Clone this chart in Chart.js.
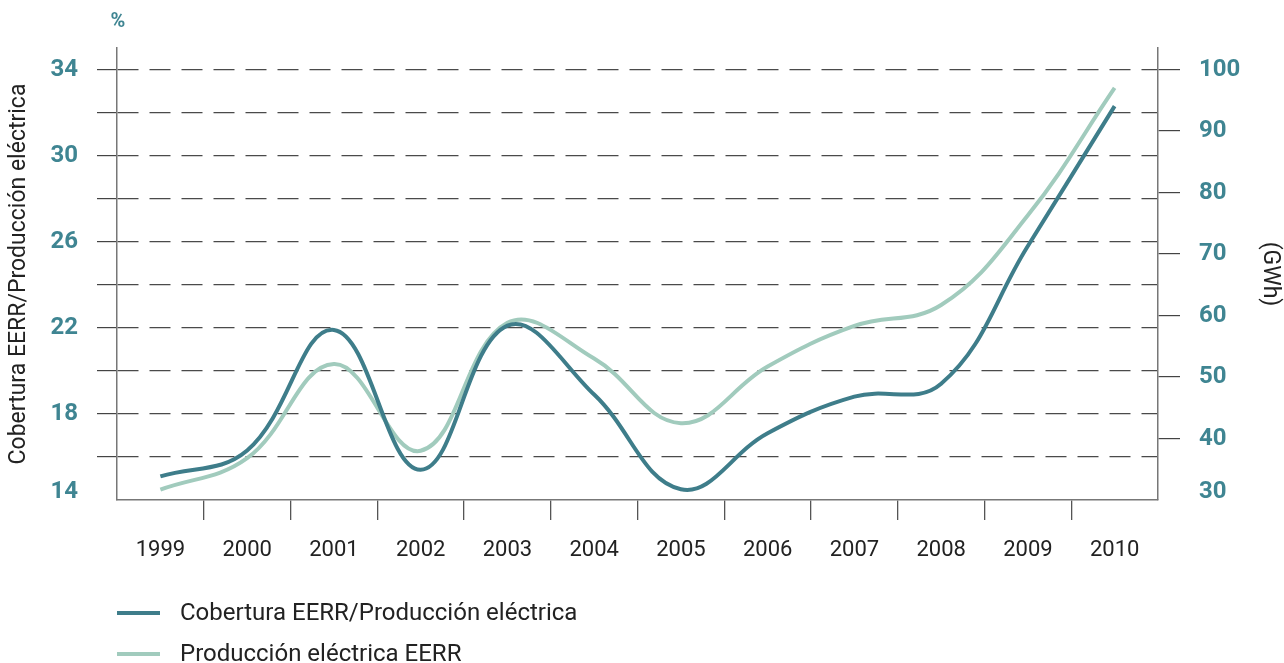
<!DOCTYPE html>
<html>
<head>
<meta charset="utf-8">
<script src="https://cdn.jsdelivr.net/npm/chart.js@4"></script>
<style>
html,body{margin:0;padding:0;background:#fff;}
#wrap{width:1284px;height:663px;position:relative;}
</style>
</head>
<body>
<div id="wrap"><canvas id="c" width="1284" height="663"></canvas></div>
<script>
// ---- data ----
const years = ['1999','2000','2001','2002','2003','2004','2005','2006','2007','2008','2009','2010'];
const cobertura = [15.1, 16.3, 21.9, 15.4, 22.1, 18.9, 14.5, 17.1, 18.8, 19.4, 25.8, 32.3];   // %
const produccion = [31.7, 36.8, 52.1, 38.0, 58.8, 53.0, 42.5, 51.7, 58.3, 61.7, 76.3, 97.0]; // GWh
const leftTicks = [14, 16, 18, 20, 22, 24, 26, 28, 30, 32, 34];
const leftLabels = [14, 18, 22, 26, 30, 34];
const rightTicks = [30, 40, 50, 60, 70, 80, 90, 100];
const seriesNames = ['Cobertura EERR/Producción eléctrica', 'Producción eléctrica EERR'];
const leftTitle = 'Cobertura EERR/Producción eléctrica';
const rightTitle = '(GWh)';
const unitLabel = '%';

const DARK = '#3e7d8a';
const LIGHT = '#a1cbbd';
const TEAL = '#3f8592';
const AXIS = '#777777';
const GRID = '#4a4a4a';
const TEXT = '#222222';
const FONT = 'Roboto';

const legendPlugin = {
  id: 'stackedLegend',
  afterDraw(chart) {
    const ctx = chart.ctx;
    const x0 = chart.chartArea.left;
    const rows = [613, 654];
    ctx.save();
    chart.data.datasets.forEach((ds, i) => {
      const y = rows[i];
      ctx.strokeStyle = ds.borderColor;
      ctx.lineWidth = 4;
      ctx.beginPath();
      ctx.moveTo(x0, y);
      ctx.lineTo(x0 + 43, y);
      ctx.stroke();
      ctx.fillStyle = TEXT;
      ctx.font = '24px ' + FONT;
      ctx.textBaseline = 'middle';
      ctx.textAlign = 'left';
      ctx.fillText(ds.label, x0 + 63, y + 1);
    });
    ctx.fillStyle = TEAL;
    ctx.font = 'bold 20px ' + FONT;
    ctx.textAlign = 'center';
    ctx.textBaseline = 'middle';
    ctx.fillText(unitLabel, chart.scales.y.right + 1, 22);
    ctx.restore();
  }
};

const nudgePlugin = {
  id: 'nudgeBottomLabels',
  afterLayout(chart) {
    ['y', 'y1'].forEach(id => {
      const s = chart.scales[id];
      if (!s || !s.getLabelItems) return;
      const items = s.getLabelItems();
      items.forEach(it => {
        if ((id === 'y' && String(it.label) === '14') || (id === 'y1' && String(it.label) === '30')) {
          if (it.options && it.options.translation) it.options.translation[1] -= 8;
        }
      });
    });
  }
};

const edgeless = (c) => (c.index >= 1 && c.index <= years.length - 1) ? '#555555' : 'rgba(0,0,0,0)';

new Chart(document.getElementById('c'), {
  type: 'line',
  data: {
    labels: years,
    datasets: [
      { label: seriesNames[0], data: cobertura, yAxisID: 'y', borderColor: DARK, backgroundColor: DARK,
        borderWidth: 4, pointRadius: 0, tension: 0.4, fill: false, order: 0 },
      { label: seriesNames[1], data: produccion, yAxisID: 'y1', borderColor: LIGHT, backgroundColor: LIGHT,
        borderWidth: 4, pointRadius: 0, tension: 0.4, fill: false, order: 1 }
    ]
  },
  options: {
    responsive: false,
    animation: false,
    layout: { padding: { top: 48, bottom: 93, left: 0, right: 0 } },
    plugins: { legend: { display: false }, tooltip: { enabled: false } },
    scales: {
      x: {
        type: 'category',
        offset: true,
        grid: { offset: true, drawOnChartArea: false, drawTicks: true, tickLength: 20,
                color: edgeless, tickColor: edgeless, lineWidth: 1.3, tickWidth: 1.3 },
        border: { display: true, color: AXIS, width: 1.5 },
        ticks: { color: TEXT, font: { family: FONT, size: 22 }, padding: 17, maxRotation: 0, autoSkip: false },
        afterFit: s => { s.height = 70; }
      },
      y: {
        type: 'linear', position: 'left', min: 14, max: 35,
        afterBuildTicks: s => { s.ticks = leftTicks.map(v => ({ value: v })); },
        ticks: { color: TEAL, font: { family: FONT, size: 24, weight: 'bold' }, padding: 19,
                 callback: v => leftLabels.includes(v) ? String(v) : '' },
        grid: { drawOnChartArea: true, drawTicks: true, tickLength: 20,
                color: c => (c.tick && c.tick.value === 14) ? 'rgba(0,0,0,0)' : GRID,
                tickColor: c => (c.tick && c.tick.value === 14) ? 'rgba(0,0,0,0)' : '#444444',
                lineWidth: 1.2, tickWidth: 1.2, tickBorderDash: [] },
        border: { display: true, color: AXIS, width: 1.5, dash: [21, 11] },
        title: { display: true, text: leftTitle, color: TEXT, font: { family: FONT, size: 23 }, padding: { top: 5, bottom: 0 } },
        afterFit: s => { s.width = 117; }
      },
      y1: {
        type: 'linear', position: 'right', min: 30, max: 103.5,
        afterBuildTicks: s => { s.ticks = rightTicks.map(v => ({ value: v })); },
        ticks: { color: TEAL, font: { family: FONT, size: 24, weight: 'bold' }, padding: 19,
                 callback: v => String(v) },
        grid: { drawOnChartArea: false, drawTicks: true, tickLength: 22,
                color: c => (c.tick && c.tick.value === 30) ? 'rgba(0,0,0,0)' : '#444444',
                tickColor: c => (c.tick && c.tick.value === 30) ? 'rgba(0,0,0,0)' : '#444444',
                lineWidth: 1.2, tickWidth: 1.2 },
        border: { display: true, color: AXIS, width: 1.5 },
        title: { display: true, text: rightTitle, color: TEXT, font: { family: FONT, size: 23 }, padding: { top: 0, bottom: 9 } },
        afterFit: s => { s.width = 126; }
      }
    }
  },
  plugins: [legendPlugin, nudgePlugin]
});
</script>
</body>
</html>
